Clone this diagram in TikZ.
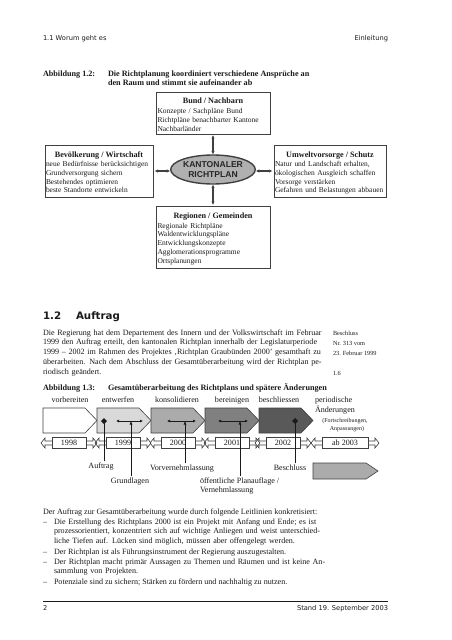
\documentclass[tikz,border=0pt]{standalone}
\usepackage{fontspec}
\setmainfont{Liberation Serif}
\newfontfamily\hdrfont{DejaVu Sans}
\newfontfamily\ellfont{Liberation Sans}
\usetikzlibrary{arrows.meta,shapes.geometric}
\definecolor{edge}{HTML}{404040}
\definecolor{ink}{HTML}{1A1A1A}
\definecolor{ga}{HTML}{D9D9D9}
\definecolor{gb}{HTML}{ABABAB}
\definecolor{gc}{HTML}{808080}
\definecolor{gd}{HTML}{595959}
\definecolor{ellfill}{HTML}{B0B0B0}
\begin{document}
\begin{tikzpicture}[x=1bp,y=-1bp,
  every node/.style={inner sep=0pt,outer sep=0pt,text=ink},
  body/.style={font=\fontsize{8.1}{10}\selectfont},
  bodyb/.style={font=\bfseries\fontsize{8.2}{9}\selectfont},
  hdr/.style={font=\hdrfont\fontsize{6.7}{8}\selectfont},
  boxtitle/.style={font=\bfseries\fontsize{8.2}{9}\selectfont},
  boxitems/.style={font=\fontsize{7.5}{8.8}\selectfont,align=left,text width=115bp},
  frame/.style={draw=edge,line width=0.9pt},
  dbl/.style={draw=edge,line width=1.3pt,{Latex[length=3.5bp,width=3.5bp]}-{Latex[length=3.5bp,width=3.5bp]}},
  stg/.style={draw=edge,line width=0.6pt},
  yarr/.style={draw=edge,line width=0.6pt},
  ybox/.style={draw=edge,line width=0.6pt,fill=white,minimum height=11bp,font=\fontsize{8.1}{9}\selectfont},
  harr/.style={draw=ink,line width=0.6pt,{Latex[length=3bp,width=3bp]}-{Latex[length=3bp,width=3bp]}},
  vline/.style={draw=ink,line width=0.6pt},
  vup/.style={draw=ink,line width=0.6pt,-{Latex[length=3.5bp,width=3bp]}},
  dmark/.style={diamond,fill=ink,minimum size=6bp},
  stlab/.style={font=\fontsize{8.1}{10}\selectfont,anchor=base},
  small/.style={font=\fontsize{6}{8}\selectfont,anchor=base},
  note/.style={font=\fontsize{6.3}{8}\selectfont,anchor=base west}
]
\useasboundingbox (0,0) rectangle (452,640);
\fill[white] (0,0) rectangle (452,640);

% header
\node[hdr,anchor=base west] (hleft) at (43,41) {1.1 Worum geht es};
\node[hdr,anchor=base east] (hright) at (388,41) {Einleitung};

% caption 1.2
\node[bodyb,anchor=base west] (cap2a) at (43,77) {Abbildung 1.2:};
\node[bodyb,anchor=base west] (cap2b) at (108,77) {Die Richtplanung koordiniert verschiedene Ansprüche an};
\node[bodyb,anchor=base west] (cap2c) at (108,86) {den Raum und stimmt sie aufeinander ab};

% boxes of figure 1.2
\node[frame,minimum width=114bp,minimum height=42bp] (bund) at (213,113) {};
\node[boxtitle,anchor=base] (bundt) at (213,103.5) {Bund / Nachbarn};
\node[boxitems,anchor=base west] (bundi) at (157.5,113.5) {Konzepte / Sachpläne Bund\\Richtpläne benachbarter Kantone\\Nachbarländer};

\node[frame,minimum width=108bp,minimum height=52bp] (bev) at (99,171) {};
\node[boxtitle,anchor=base] (bevt) at (99,158) {Bevölkerung / Wirtschaft};
\node[boxitems,anchor=base west] (bevi) at (46,166.5) {neue Bedürfnisse berücksichtigen\\Grundversorgung sichern\\Bestehendes optimieren\\beste Standorte entwickeln};

\node[frame,minimum width=112bp,minimum height=52bp] (umw) at (330,171) {};
\node[boxtitle,anchor=base] (umwt) at (330,158) {Umweltvorsorge / Schutz};
\node[boxitems,anchor=base west] (umwi) at (275,166.5) {Natur und Landschaft erhalten,\\ökologischen Ausgleich schaffen\\Vorsorge verstärken\\Gefahren und Belastungen abbauen};

\node[frame,minimum width=114bp,minimum height=62bp] (reg) at (213,237) {};
\node[boxtitle,anchor=base] (regt) at (213,218) {Regionen / Gemeinden};
\node[boxitems,anchor=base west] (regi) at (157.5,228) {Regionale Richtpläne\\Waldentwicklungspläne\\Entwicklungskonzepte\\Agglomerationsprogramme\\Ortsplanungen};

\node[ellipse,draw=edge,line width=1.4pt,fill=ellfill,minimum width=84bp,minimum height=29bp,
      font=\ellfont\bfseries\fontsize{8.6}{10}\selectfont,align=center,text=black!85] (kr) at (213,169.5) {KANTONALER\\RICHTPLAN};

\draw[dbl,shorten >=0.5bp,shorten <=1bp] (bund.south) -- (kr.north);
\draw[dbl,shorten >=0.5bp,shorten <=1bp] (reg.north) -- (kr.south);
\draw[dbl,shorten >=0.5bp,shorten <=1.5bp] (bev.east) -- (bev.east -| kr.west);
\draw[dbl,shorten >=0.5bp,shorten <=1.5bp] (umw.west) -- (umw.west -| kr.east);

% section heading
\node[font=\hdrfont\bfseries\fontsize{10.3}{12}\selectfont,anchor=base west] (secnum) at (43,319) {1.2};
\node[font=\hdrfont\bfseries\fontsize{10.3}{12}\selectfont,anchor=base west] (sectitle) at (76,319) {Auftrag};

% paragraph
\node[body,anchor=base west,align=left,text width=300bp] (para) at (43,335) {%
\makebox[282bp][s]{Die Regierung hat dem Departement des Innern und der Volkswirtschaft im Februar}\\
\makebox[282bp][s]{1999 den Auftrag erteilt, den kantonalen Richtplan innerhalb der Legislaturperiode}\\
\makebox[282bp][s]{1999 – 2002 im Rahmen des Projektes ‚Richtplan Graubünden 2000’ gesamthaft zu}\\
\makebox[282bp][s]{überarbeiten. Nach dem Abschluss der Gesamtüberarbeitung wird der Richtplan pe-}\\
riodisch geändert.};

\node[note] (n1) at (333,335) {Beschluss};
\node[note] (n2) at (333,345) {Nr. 313 vom};
\node[note] (n3) at (333,355) {23. Februar 1999};
\node[note] (n4) at (333,375.5) {1.6};

% caption 1.3
\node[bodyb,anchor=base west] (cap3a) at (43,390) {Abbildung 1.3:};
\node[bodyb,anchor=base west] (cap3b) at (108,390) {Gesamtüberarbeitung des Richtplans und spätere Änderungen};

% stage labels
\node[stlab] (s1) at (70,402) {vorbereiten};
\node[stlab] (s2) at (118,402) {entwerfen};
\node[stlab] (s3) at (177,402) {konsolidieren};
\node[stlab] (s4) at (232,402) {bereinigen};
\node[stlab] (s5) at (279,402) {beschliessen};
\node[stlab,anchor=base west] (s6) at (315,402) {periodische};
\node[stlab,anchor=base west] (s6b) at (315,412) {Änderungen};
\node[small] (s6c) at (345,422.5) {(Fortschreibungen,};
\node[small] (s6d) at (347,430.5) {Anpassungen)};

% stage arrows
\foreach \x/\c in {43/white,97/ga,151/gb,205/gc,259/gd}{
  \draw[stg,fill=\c] (\x,408) -- (\x+42,408) -- (\x+54,420.5) -- (\x+42,433) -- (\x,433) -- cycle;
}
\draw[stg,fill=gb] (313,463) -- (366,463) -- (378,471) -- (366,479) -- (313,479) -- cycle;

% year row
\foreach \a/\b in {52/86,106/140,161/195,215/249,266/300,322/368}{
  \draw[yarr] (\a-11,443) -- (\a-7,438) -- (\a-7,441) -- (\b+7,441) -- (\b+7,438) -- (\b+11,443)
     -- (\b+7,448) -- (\b+7,445) -- (\a-7,445) -- (\a-7,448) -- cycle;
}
\node[ybox,minimum width=34bp] (y1) at (69,443) {1998};
\node[ybox,minimum width=34bp] (y2) at (123,443) {1999};
\node[ybox,minimum width=34bp] (y3) at (178,443) {2000};
\node[ybox,minimum width=34bp] (y4) at (232,443) {2001};
\node[ybox,minimum width=34bp] (y5) at (283,443) {2002};
\node[ybox,minimum width=46bp] (y6) at (345,443) {ab 2003};

% markers and horizontal arrows
\coordinate (hGa) at (116,421); \coordinate (hGb) at (143,421); \coordinate (hG) at (131,421);
\coordinate (hVa) at (167,421); \coordinate (hVb) at (196,421); \coordinate (hV) at (185,421);
\coordinate (hOa) at (218,421); \coordinate (hOb) at (248,421); \coordinate (hO) at (240,421);
\draw[harr] (hGa) -- (hGb);
\draw[harr] (hVa) -- (hVb);
\draw[harr] (hOa) -- (hOb);

% milestone labels
\node[stlab] (lAuf) at (101,468) {Auftrag};
\node[stlab] (lGru) at (130,483) {Grundlagen};
\node[stlab] (lVor) at (182,470) {Vorvernehmlassung};
\node[stlab,anchor=base west] (lOef) at (200,483) {öffentliche Planauflage /};
\node[stlab,anchor=base west] (lOef2) at (200,492) {Vernehmlassung};
\node[stlab] (lBes) at (290,470) {Beschluss};

\coordinate (mA) at (104,421);
\coordinate (mB) at (295,421);
\draw[vline] ([yshift=1bp]lAuf.north -| mA) -- (mA);
\draw[vline] ([yshift=1bp]lBes.north -| mB) -- (mB);
\node[dmark] (dA) at (mA) {};
\node[dmark] (dB) at (mB) {};
\draw[vup] ([yshift=1bp]lGru.north -| hG) -- (hG);
\draw[vup] ([yshift=1bp]lVor.north -| hV) -- (hV);
\draw[vup] ([yshift=1bp]lOef.north -| hO) -- (hO);

% list
\node[body,anchor=base west] (lead) at (43,514) {Der Auftrag zur Gesamtüberarbeitung wurde durch folgende Leitlinien konkretisiert:};
\node[body,anchor=base west] (d1) at (43,524) {–};
\node[body,anchor=base west,align=left,text width=320bp] (t1) at (54,524) {Die Erstellung des Richtplans 2000 ist ein Projekt mit Anfang und Ende; es ist\\prozessorientiert, konzentriert sich auf wichtige Anliegen und weist unterschied-\\liche Tiefen auf. Lücken sind möglich, müssen aber offengelegt werden.};
\node[body,anchor=base west] (d2) at (43,554) {–};
\node[body,anchor=base west] (t2) at (54,554) {Der Richtplan ist als Führungsinstrument der Regierung auszugestalten.};
\node[body,anchor=base west] (d3) at (43,564) {–};
\node[body,anchor=base west,align=left,text width=320bp] (t3) at (54,564) {Der Richtplan macht primär Aussagen zu Themen und Räumen und ist keine An-\\sammlung von Projekten.};
\node[body,anchor=base west] (d4) at (43,584) {–};
\node[body,anchor=base west] (t4) at (54,584) {Potenziale sind zu sichern; Stärken zu fördern und nachhaltig zu nutzen.};

% footer
\draw[line width=0.9pt,draw=ink] (43,601) coordinate (fl) -- (388,601) coordinate (fr);
\node[hdr,anchor=base west] (fleft) at (43,610) {2};
\node[hdr,anchor=base east] (fright) at (388,610) {Stand 19. September 2003};
\end{tikzpicture}
\end{document}
